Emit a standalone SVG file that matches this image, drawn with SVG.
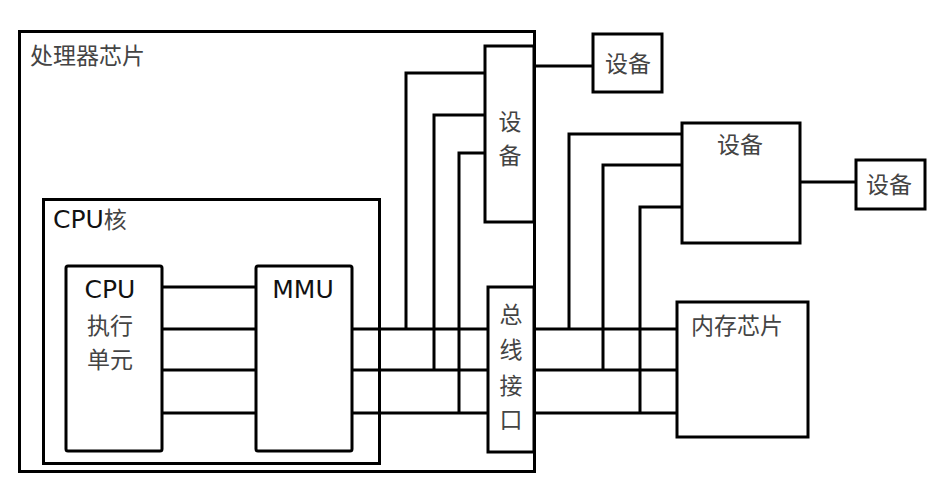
<svg xmlns="http://www.w3.org/2000/svg" width="932" height="487" viewBox="0 0 932 487">
<style>
.box{fill:#fff;stroke:#000;stroke-width:3}
.ln{fill:none;stroke:#000;stroke-width:3}
.cjk{font-family:"Noto Sans CJK SC","DejaVu Sans",sans-serif;font-size:23px;fill:#444}
.lat{font-family:"DejaVu Sans","Noto Sans CJK SC",sans-serif;font-size:25px;fill:#111}
.mid{text-anchor:middle}
</style>
<rect width="932" height="487" fill="#fff"/>
<g id="processor-chip">
<rect class="box" x="19.5" y="31.5" width="515" height="440"/>
<text class="cjk" x="30" y="64">处理器芯片</text>
</g>
<g id="cpu-core">
<rect class="box" x="43.5" y="199.5" width="336" height="264"/>
<text class="lat" x="53" y="228">CPU<tspan class="cjk">核</tspan></text>
</g>
<g id="connectors">
<path class="ln" d="M162,287H256M162,329H256M162,370H256M162,413H256"/>
<path class="ln" d="M352,329H488M352,370H488M352,413H488"/>
<path class="ln" d="M534,329H677M534,370H677M534,413H677"/>
<path class="ln" d="M485,73H406V329M485,115H434V370M485,153H459V413"/>
<path class="ln" d="M682,134H569V329M682,165H603V370M682,207H640V413"/>
<path class="ln" d="M534,66H593"/>
<path class="ln" d="M800,182H856"/>
</g>
<g id="cpu-exec">
<rect class="box" x="66" y="266" width="96" height="185" rx="2"/>
<text class="lat mid" x="110" y="298">CPU</text>
<text class="cjk mid" x="110" y="334">执行</text>
<text class="cjk mid" x="110" y="368">单元</text>
</g>
<g id="mmu">
<rect class="box" x="256" y="266" width="96" height="185" rx="2"/>
<text class="lat mid" x="303" y="298">MMU</text>
</g>
<g id="device-onchip">
<rect class="box" x="485" y="46" width="49" height="176"/>
<text class="cjk mid" x="510" y="130">设</text>
<text class="cjk mid" x="510" y="164">备</text>
</g>
<g id="bus-interface">
<rect class="box" x="488" y="287" width="46" height="165"/>
<text class="cjk mid" x="511" y="323">总</text>
<text class="cjk mid" x="511" y="358">线</text>
<text class="cjk mid" x="511" y="394">接</text>
<text class="cjk mid" x="511" y="428">口</text>
</g>
<g id="device-top">
<rect class="box" x="593" y="34" width="69" height="58"/>
<text class="cjk mid" x="628" y="72">设备</text>
</g>
<g id="device-mid">
<rect class="box" x="682" y="123" width="118" height="120"/>
<text class="cjk mid" x="740" y="153">设备</text>
</g>
<g id="device-right">
<rect class="box" x="856" y="160" width="69" height="49"/>
<text class="cjk mid" x="889" y="193">设备</text>
</g>
<g id="memory-chip">
<rect class="box" x="677" y="302" width="131" height="135"/>
<text class="cjk" x="691" y="334">内存芯片</text>
</g>
</svg>
